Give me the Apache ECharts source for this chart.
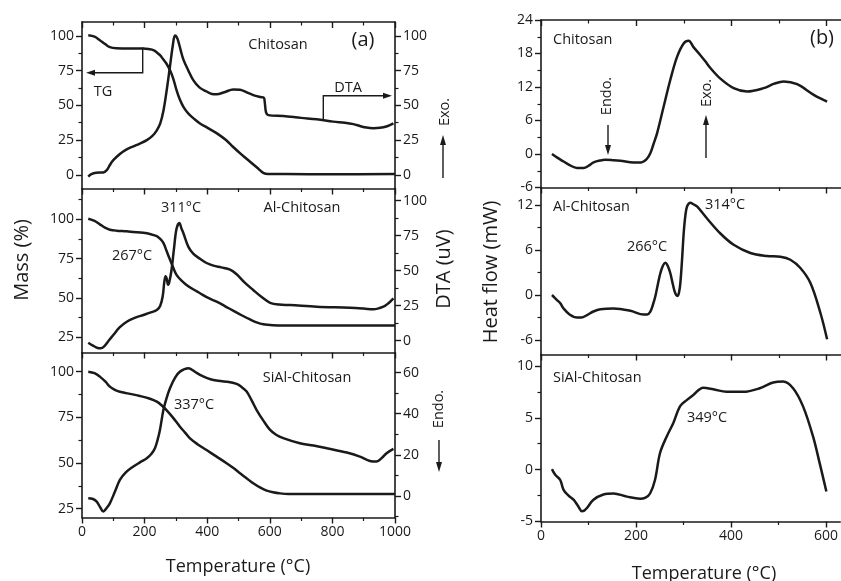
<!DOCTYPE html>
<html>
<head>
<meta charset="utf-8">
<script src="https://cdn.jsdelivr.net/npm/echarts@6/dist/echarts.min.js"></script>
<style>
  html, body { margin: 0; padding: 0; background: #fff; }
  #chart { width: 841px; height: 581px; }
</style>
</head>
<body>
<div id="chart"></div>
<script>
/**
 * data: [temperature, value]
 */
// (a) TG / DTA, 0-1000 C
var tgChitosan = [[20,100.5],[40,99.5],[57,97],[75,94],[89,92],[110,91.2],[150,91],[196,91],[215,90.5],[228,89.8],[240,88],[250,86],[260,83],[270,80],[282,75],[292,69],[302,61],[313,54],[325,48.5],[340,44],[360,40],[377,37],[400,34],[430,30],[460,25],[483,20],[510,14.5],[537,9.4],[560,5],[579,1.4],[595,0.6],[650,0.5],[800,0.4],[1000,0.5]];
var dtaChitosan = [[20,-1.4],[30,0.5],[45,1.5],[68,1.7],[80,3.5],[89,7],[100,10.5],[121,15],[140,18],[164,20.5],[185,22.5],[207,25],[225,28],[239,32],[250,37],[260,46],[270,60],[281,78],[290,93],[297,100.3],[303,99],[308,96],[315,90],[324,83],[340,75],[356,68],[375,63],[398,60],[415,58.2],[430,58],[455,59.5],[483,61.5],[505,61.3],[530,59],[547,57.4],[570,56],[581,55.5],[584,52],[588,45],[595,43],[643,42.3],[700,41],[750,40],[803,38.3],[840,37.5],[867,36.5],[890,35],[909,34],[930,33.6],[952,33.8],[975,35],[995,37]];
var tgAl = [[20,100.4],[40,99],[57,96.8],[75,94.5],[89,93.4],[110,92.8],[143,92.4],[196,91.4],[220,90.5],[239,89.3],[250,87.5],[260,85],[270,80],[281,74.4],[292,69],[302,64.7],[318,61],[334,58.3],[355,55.5],[377,53],[400,50.3],[430,47.6],[455,45],[483,41.9],[510,39],[537,36.3],[560,34.3],[579,33.3],[610,32.7],[643,32.5],[800,32.5],[1000,32.5]];
var dtaAl = [[20,-1.4],[35,-3.5],[50,-5.2],[60,-5.4],[70,-4.2],[85,0],[100,4.1],[120,9.5],[143,13.6],[170,16.5],[196,18.4],[220,20.2],[239,21.9],[250,25],[258,32],[263,42],[267,46],[271,44],[275,40],[279,42],[286,50.5],[294,66],[302,80],[311,84],[318,80],[324,76.7],[340,67],[356,62],[377,58.5],[398,55.5],[420,53.6],[445,52.4],[473,50.8],[494,47.5],[520,41.5],[547,36.2],[575,31],[601,27.1],[630,25.8],[665,25.5],[750,24.3],[856,23.6],[900,23],[931,22.4],[963,24.3],[980,27],[995,30.3]];
var tgSiAl = [[20,100],[40,99.2],[57,97.3],[75,94.5],[89,91.8],[105,90],[121,89],[150,88],[185,86.7],[215,85.3],[239,83.6],[255,81.5],[270,79],[290,75],[313,69.9],[330,66.5],[345,63.5],[370,60.2],[398,57.1],[430,53.5],[462,49.9],[485,47.1],[505,44.4],[527,41.5],[547,38.9],[570,36.5],[590,34.9],[610,34],[633,33.4],[660,33.1],[700,33.1],[1000,33.1]];
var dtaSiAl = [[20,-1.1],[35,-1.5],[47,-2.8],[58,-5.5],[68,-7.6],[78,-6],[89,-3.6],[105,2],[121,7.8],[140,11.5],[164,14.3],[185,16.3],[207,18.3],[222,20.5],[233,23.2],[241,27],[249,32.1],[260,41.8],[270,47.5],[281,52.4],[297,57.5],[313,60.5],[340,62.1],[360,60.5],[377,58.9],[400,57.3],[420,56.4],[462,55.6],[494,54.5],[510,53],[526,50.8],[542,46.5],[558,41.8],[580,36.5],[601,32.1],[620,29.8],[643,28.1],[696,25.6],[740,24.5],[782,23.2],[846,21.1],[888,19.1],[920,17],[941,16.7],[958,18.5],[973,20.8],[995,22.9]];
// (b) heat flow, 0-600 C
var hfChitosan = [[23,0],[35,-0.7],[47.5,-1.35],[60,-2],[75.6,-2.5],[89.5,-2.5],[100,-2.1],[110.5,-1.5],[125,-1.15],[135,-1.05],[150,-1.1],[166.6,-1.2],[194.5,-1.5],[210,-1.5],[215.5,-1.35],[222,-0.9],[229.6,0.15],[236,1.7],[243.7,3.7],[257.6,8.5],[271.6,13.3],[285.7,17.4],[299.6,19.8],[310,20.3],[320.6,19.1],[334.7,17.7],[345,16.6],[355.7,15.4],[376.7,13.5],[404.6,11.8],[432.8,11.2],[467.6,11.8],[490,12.6],[509.7,13],[537.8,12.5],[572.7,10.6],[600.8,9.4]];
var hfAl = [[23,0],[33.6,-0.67],[40.5,-1.1],[47.5,-1.8],[60,-2.6],[75.6,-3.0],[85,-3.0],[96.6,-2.67],[110,-2.2],[124.6,-1.9],[152.5,-1.8],[187.6,-2.1],[215.5,-2.6],[223,-2.6],[229.6,-2.2],[235,-1.3],[240,-0.2],[245,1.3],[250.6,2.9],[256,3.9],[261,4.3],[266,3.9],[271.6,2.9],[277,1.4],[282,0.23],[287,-0.13],[290,0.4],[292.6,1.56],[296,4.5],[299.6,8.2],[303,10.5],[306.7,11.8],[313.7,12.3],[320,12.1],[327.7,11.8],[348.7,10.2],[376.7,8.2],[404.6,6.7],[439.7,5.6],[474.8,5.2],[502.7,5.1],[523.7,4.7],[544.7,3.6],[565.8,1.6],[586.8,-2.4],[600.8,-5.9]];
var hfSiAl = [[23,0.05],[30,-0.5],[40.5,-1.0],[47.5,-1.95],[58,-2.5],[68.5,-2.9],[78,-3.5],[86,-4.0],[91,-3.95],[96.6,-3.7],[110.5,-2.9],[131.5,-2.4],[152.5,-2.3],[180.7,-2.6],[208.6,-2.8],[220,-2.7],[229.6,-2.3],[240,-1.0],[250.6,1.6],[264.7,3.2],[278.6,4.5],[292.6,6.1],[306.7,6.7],[320.6,7.2],[341.6,7.9],[362.6,7.75],[390.8,7.5],[425.6,7.5],[460.7,7.85],[488.7,8.4],[509.7,8.5],[530.7,7.85],[551.7,6.1],[572.7,3.2],[586.8,0.6],[600.8,-2.1]];

// tick labels
var tempTicksA = [0, 200, 400, 600, 800, 1000];
var tempMinorA = [100, 300, 500, 700, 900];
var tempTicksB = [0, 200, 400, 600];
var tempMinorB = [100, 300, 500];

var ink = '#1a1a1a';
var font = 'Open Sans';

var xAxes = [], yAxes = [];

/**
 * push a major axis (line, ticks, labels) and a minor tick axis on top of it
 * returns index of the major axis
 */
function addAxis(list, gridIndex, position, min, max, majors, minors, showLabel, inside) {
    var idx = list.length;
    list.push({
        type: 'value', gridIndex: gridIndex, position: position, min: min, max: max,
        axisLine: { show: true, onZero: false, lineStyle: { color: ink, width: 1.6 } },
        axisTick: { show: true, inside: !!inside, length: 6, customValues: majors, lineStyle: { color: ink, width: 1.4 } },
        axisLabel: { show: !!showLabel, customValues: majors, color: ink, fontSize: 14, fontFamily: font, margin: 8,
                     formatter: function (v) { return String(v); } },
        splitLine: { show: false }
    });
    list.push({
        type: 'value', gridIndex: gridIndex, position: position, min: min, max: max,
        axisLine: { show: false, onZero: false },
        axisTick: { show: true, inside: !!inside, length: 3.5, customValues: minors, lineStyle: { color: ink, width: 1.2 } },
        axisLabel: { show: false },
        splitLine: { show: false }
    });
    return idx;
}

var grids = [
    { left: 82, top: 22, width: 313, height: 166.5 },
    { left: 82, top: 188.5, width: 313, height: 164 },
    { left: 82, top: 352.5, width: 313, height: 165 },
    { left: 541, top: 20, width: 300, height: 167.5 },
    { left: 541, top: 187.5, width: 300, height: 167 },
    { left: 541, top: 354.5, width: 300, height: 167 }
];
grids.forEach(function (g) { g.containLabel = false; });

// x axes
var xa0 = addAxis(xAxes, 0, 'bottom', 0, 1000, tempTicksA, tempMinorA, false);
addAxis(xAxes, 0, 'top', 0, 1000, tempTicksA, tempMinorA, false, true);
var xa1 = addAxis(xAxes, 1, 'bottom', 0, 1000, tempTicksA, tempMinorA, false);
var xa2 = addAxis(xAxes, 2, 'bottom', 0, 1000, tempTicksA, tempMinorA, true);
var xb0 = addAxis(xAxes, 3, 'bottom', 0, 630, tempTicksB, tempMinorB, false);
addAxis(xAxes, 3, 'top', 0, 630, tempTicksB, tempMinorB, false, true);
var xb1 = addAxis(xAxes, 4, 'bottom', 0, 630, tempTicksB, tempMinorB, false);
var xb2 = addAxis(xAxes, 5, 'bottom', 0, 630, tempTicksB, tempMinorB, true);

// y axes
var ya0 = addAxis(yAxes, 0, 'left', -9.9, 110.1, [0, 25, 50, 75, 100], [12.5, 37.5, 62.5, 87.5], true);
var ya0r = addAxis(yAxes, 0, 'right', -9.9, 110.1, [0, 25, 50, 75, 100], [12.5, 37.5, 62.5, 87.5], true);
var ya1 = addAxis(yAxes, 1, 'left', 15.3, 119.6, [25, 50, 75, 100], [37.5, 62.5, 87.5, 112.5], true);
var ya1r = addAxis(yAxes, 1, 'right', -8.4, 108.7, [0, 25, 50, 75, 100], [12.5, 37.5, 62.5, 87.5], true);
var ya2 = addAxis(yAxes, 2, 'left', 20.2, 110.5, [25, 50, 75, 100], [37.5, 62.5, 87.5], true);
var ya2r = addAxis(yAxes, 2, 'right', -10.5, 69.8, [0, 20, 40, 60], [-10, 10, 30, 50], true);
var yb0 = addAxis(yAxes, 3, 'left', -6, 24, [-6, 0, 6, 12, 18, 24], [-3, 3, 9, 15, 21], true);
var yb1 = addAxis(yAxes, 4, 'left', -7.93, 14.33, [-6, 0, 6, 12], [-3, 3, 9], true);
var yb2 = addAxis(yAxes, 5, 'left', -5, 11.1, [-5, 0, 5, 10], [-2.5, 2.5, 7.5], true);

function curve(data, xi, yi) {
    return {
        type: 'line', data: data, xAxisIndex: xi, yAxisIndex: yi,
        showSymbol: false, smooth: 0.35,
        lineStyle: { color: ink, width: 2.5 }, silent: true
    };
}

var series = [
    curve(tgChitosan, xa0, ya0), curve(dtaChitosan, xa0, ya0r),
    curve(tgAl, xa1, ya1), curve(dtaAl, xa1, ya1r),
    curve(tgSiAl, xa2, ya2), curve(dtaSiAl, xa2, ya2r),
    curve(hfChitosan, xb0, yb0), curve(hfAl, xb1, yb1), curve(hfSiAl, xb2, yb2)
];

function txt(s, x, y, size, opts) {
    opts = opts || {};
    return {
        type: 'text', x: x, y: y, rotation: opts.rot || 0, z: 10,
        style: { text: s, fontSize: size, fontFamily: font, fill: ink,
                 textAlign: opts.align || 'center', textVerticalAlign: 'middle' }
    };
}
function line(points) {
    return { type: 'polyline', z: 10, shape: { points: points }, style: { stroke: ink, lineWidth: 1.4, fill: null } };
}
function head(x, y, dir) {
    var p;
    if (dir == 'up') p = [[x, y], [x - 3, y + 10], [x + 3, y + 10]];
    else if (dir == 'down') p = [[x, y], [x - 3, y - 10], [x + 3, y - 10]];
    else if (dir == 'left') p = [[x, y], [x + 9, y - 3], [x + 9, y + 3]];
    else p = [[x, y], [x - 9, y - 3], [x - 9, y + 3]];
    return { type: 'polygon', z: 10, shape: { points: p }, style: { fill: ink } };
}

var R = Math.PI / 2;
var graphics = [
    txt('(a)', 363, 40, 20), txt('(b)', 822, 38, 20),
    txt('Chitosan', 278, 45, 14.5), txt('TG', 103, 92, 14.5), txt('DTA', 348, 88, 14.5),
    txt('Al-Chitosan', 302, 208, 14.5), txt('311°C', 181, 208, 14.5), txt('267°C', 132, 256, 14.5),
    txt('SiAl-Chitosan', 307, 378, 14.5), txt('337°C', 194, 405, 14.5),
    txt('Chitosan', 553, 40, 14.5, { align: 'left' }),
    txt('Al-Chitosan', 553, 207, 14.5, { align: 'left' }),
    txt('314°C', 725, 205, 14.5), txt('266°C', 647, 247, 14.5),
    txt('SiAl-Chitosan', 553, 378, 14.5, { align: 'left' }), txt('349°C', 707, 418, 14.5),
    txt('Mass (%)', 22, 260, 20, { rot: R }),
    txt('DTA (uV)', 444, 269, 20, { rot: R }),
    txt('Heat flow (mW)', 491, 272, 20, { rot: R }),
    txt('Temperature (°C)', 238, 567, 18), txt('Temperature (°C)', 704, 574, 18),
    txt('Exo.', 445, 112, 14.5, { rot: R }),
    line([[443, 178], [443, 140]]), head(443, 135, 'up'),
    txt('Endo.', 439, 409, 14.5, { rot: R }),
    line([[439, 440], [439, 466]]), head(439, 472, 'down'),
    txt('Endo.', 607, 96, 14.5, { rot: R }),
    line([[608, 125], [608, 150]]), head(608, 155, 'down'),
    txt('Exo.', 707, 93, 14.5, { rot: R }),
    line([[706, 158], [706, 120]]), head(706, 115, 'up'),
    // TG / DTA leaders
    line([[142.7, 47.5], [142.7, 72.7], [92, 72.7]]), head(86, 72.7, 'left'),
    line([[323.3, 120], [323.3, 95.7], [386, 95.7]]), head(392, 95.7, 'right')
];

var chart = echarts.init(document.getElementById('chart'), null, { renderer: 'canvas' });
chart.setOption({
    animation: false,
    backgroundColor: '#fff',
    textStyle: { fontFamily: font },
    grid: grids,
    xAxis: xAxes,
    yAxis: yAxes,
    series: series,
    graphic: graphics
});
</script>
</body>
</html>
